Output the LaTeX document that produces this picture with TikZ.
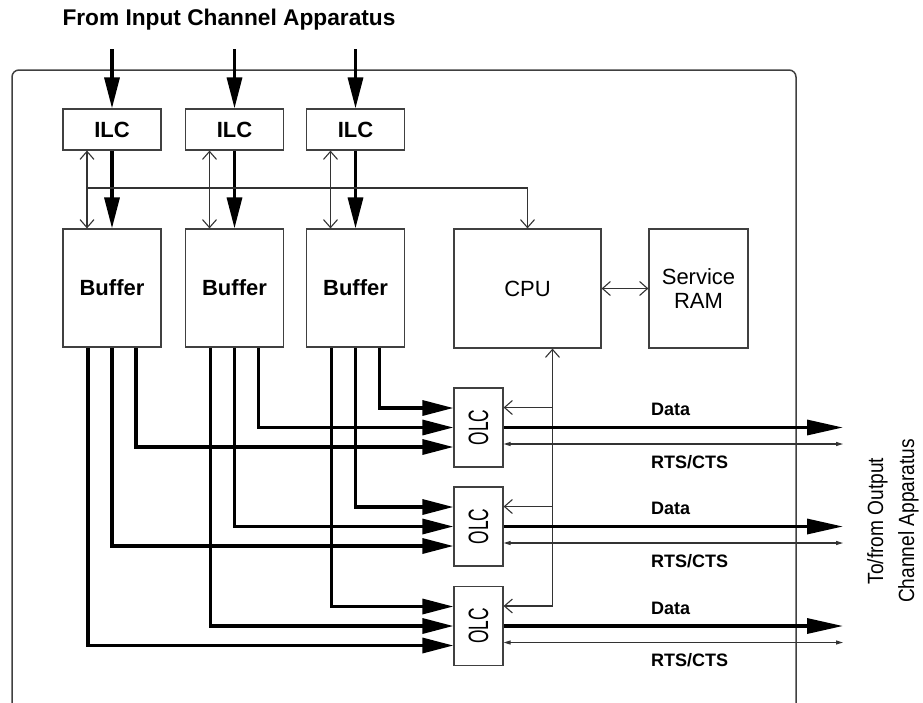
\documentclass[tikz,border=0pt]{standalone}
\usepackage{fontspec}
\usepackage{graphicx}
\setmainfont{Liberation Sans}
\newfontfamily\olcfont[FakeStretch=0.62]{Liberation Sans}
\newfontfamily\outfont[FakeStretch=0.87]{Liberation Sans}
\usepackage{tikz}
\usetikzlibrary{arrows.meta,calc}

\begin{document}
\begin{tikzpicture}[x=1pt,y=-1pt,
  box/.style={draw=black!75,line width=1.2pt,inner sep=0pt,font=\bfseries\fontsize{22}{26}\selectfont},
  cbox/.style={box,font=\fontsize{22}{24}\selectfont,minimum width=99pt,minimum height=119pt,align=center},
  olcbox/.style={box,minimum width=49pt,minimum height=79pt,font=\olcfont\fontsize{28}{30}\selectfont},
  fat/.style={line width=3.3pt,-{Triangle[length=31pt,width=15pt]}},
  lean/.style={draw=black!80,line width=1.1pt},
  lab/.style={anchor=west,inner sep=0pt,font=\bfseries\fontsize{18}{20}\selectfont}]
\useasboundingbox (0,0) rectangle (923,702);
\clip (0,0) rectangle (923,702);
\draw[line width=1.5pt,black!75,rounded corners=7pt] (12,70) rectangle (796,712);
\node[font=\bfseries\fontsize{22.7}{26}\selectfont] (title) at (229,19.5) {From Input Channel Apparatus};
% line cards and buffers
\node[box,minimum width=98pt,minimum height=41pt] (ilc1) at (112,129.5) {ILC};
\node[box,minimum width=98pt,minimum height=41pt] (ilc2) at (234.5,129.5) {ILC};
\node[box,minimum width=98pt,minimum height=41pt] (ilc3) at (355.5,129.5) {ILC};
\node[box,minimum width=98pt,minimum height=118pt] (buf1) at (112,288) {Buffer};
\node[box,minimum width=98pt,minimum height=118pt] (buf2) at (234.5,288) {Buffer};
\node[box,minimum width=98pt,minimum height=118pt] (buf3) at (355.5,288) {Buffer};
\node[cbox,minimum width=147pt] (cpu) at (527.5,288.5) {CPU};
\node[cbox] (ram) at (698.5,288.5) {Service\\RAM};
\node[olcbox] (olc1) at (478.5,427.5) {\rotatebox{90}{OLC}};
\node[olcbox] (olc2) at (478.5,526.5) {\rotatebox{90}{OLC}};
\node[olcbox] (olc3) at (478.5,626) {\rotatebox{90}{OLC}};
\node[rotate=90,align=center,font=\outfont\fontsize{22}{31}\selectfont] (outlab) at (893,521) {To/from Output\\Channel Apparatus};
% inputs
\coordinate (in1) at ([yshift=59pt]ilc1.north);
\coordinate (in2) at ([yshift=59pt]ilc2.north);
\coordinate (in3) at ([yshift=59pt]ilc3.north);
\draw[fat] (in1) -- (ilc1.north);
\draw[fat] (in2) -- (ilc2.north);
\draw[fat] (in3) -- (ilc3.north);
\draw[fat] (ilc1) -- (buf1);
\draw[fat] (ilc2) -- (buf2);
\draw[fat] (ilc3) -- (buf3);
% control bus
\draw[lean,{Straight Barb[length=8pt,width=14pt]}-{Straight Barb[length=8pt,width=14pt]}] ([xshift=-25pt]ilc1.south) -- ([xshift=-25pt]buf1.north);
\draw[lean,{Straight Barb[length=8pt,width=14pt]}-{Straight Barb[length=8pt,width=14pt]}] ([xshift=-25pt]ilc2.south) -- ([xshift=-25pt]buf2.north);
\draw[lean,{Straight Barb[length=8pt,width=14pt]}-{Straight Barb[length=8pt,width=14pt]}] ([xshift=-25pt]ilc3.south) -- ([xshift=-25pt]buf3.north);
\coordinate (bus) at (87,188);
\draw[lean,-{Straight Barb[length=8pt,width=14pt]}] (bus) -| (cpu.north);
\draw[lean,{Straight Barb[length=8pt,width=14pt]}-{Straight Barb[length=8pt,width=14pt]}] (cpu) -- (ram);
% buffer to OLC wires
\draw[fat] ([xshift=24pt]buf3.south) |- ([yshift=19.5pt]olc1.west);
\draw[fat] ([xshift=24pt]buf2.south) |- (olc1.west);
\draw[fat] ([xshift=24pt]buf1.south) |- ([yshift=-19.5pt]olc1.west);
\draw[fat] (buf3.south) |- ([yshift=19.5pt]olc2.west);
\draw[fat] (buf2.south) |- (olc2.west);
\draw[fat] (buf1.south) |- ([yshift=-19.5pt]olc2.west);
\draw[fat] ([xshift=-24pt]buf3.south) |- ([yshift=19.5pt]olc3.west);
\draw[fat] ([xshift=-24pt]buf2.south) |- (olc3.west);
\draw[fat] ([xshift=-24pt]buf1.south) |- ([yshift=-19.5pt]olc3.west);
% CPU to OLC control
\coordinate (ctl) at ([xshift=25pt]cpu.south);
\coordinate (c1) at ([yshift=20pt]olc1.east);
\coordinate (c2) at ([yshift=20pt]olc2.east);
\coordinate (c3) at ([yshift=20pt]olc3.east);
\draw[lean,{Straight Barb[length=8pt,width=14pt]}-{Straight Barb[length=8pt,width=14pt]}] (ctl) |- (c3);
\draw[lean,-{Straight Barb[length=8pt,width=14pt]}] (ctl |- c1) -- (c1);
\draw[lean,-{Straight Barb[length=8pt,width=14pt]}] (ctl |- c2) -- (c2);
% outputs
\coordinate (rim) at (843,0);
\draw[fat,-{Triangle[length=36pt,width=15pt]}] (olc1) -- (olc1 -| rim);
\draw[fat,-{Triangle[length=36pt,width=15pt]}] (olc2) -- (olc2 -| rim);
\draw[fat,-{Triangle[length=36pt,width=15pt]}] (olc3) -- (olc3 -| rim);
\coordinate (r1) at ([yshift=-16.5pt]olc1.east);
\coordinate (r2) at ([yshift=-16.5pt]olc2.east);
\coordinate (r3) at ([yshift=-16.5pt]olc3.east);
\draw[lean,{Triangle[length=7pt,width=4pt]}-{Triangle[length=7pt,width=4pt]}] (r1) -- (r1 -| rim);
\draw[lean,{Triangle[length=7pt,width=4pt]}-{Triangle[length=7pt,width=4pt]}] (r2) -- (r2 -| rim);
\draw[lean,{Triangle[length=7pt,width=4pt]}-{Triangle[length=7pt,width=4pt]}] (r3) -- (r3 -| rim);
\node[lab] (dat1) at (651,409) {Data};
\node[lab] (rts1) at (651,462) {RTS/CTS};
\node[lab] (dat2) at (651,508) {Data};
\node[lab] (rts2) at (651,561) {RTS/CTS};
\node[lab] (dat3) at (651,608) {Data};
\node[lab] (rts3) at (651,660) {RTS/CTS};
\end{tikzpicture}
\end{document}
